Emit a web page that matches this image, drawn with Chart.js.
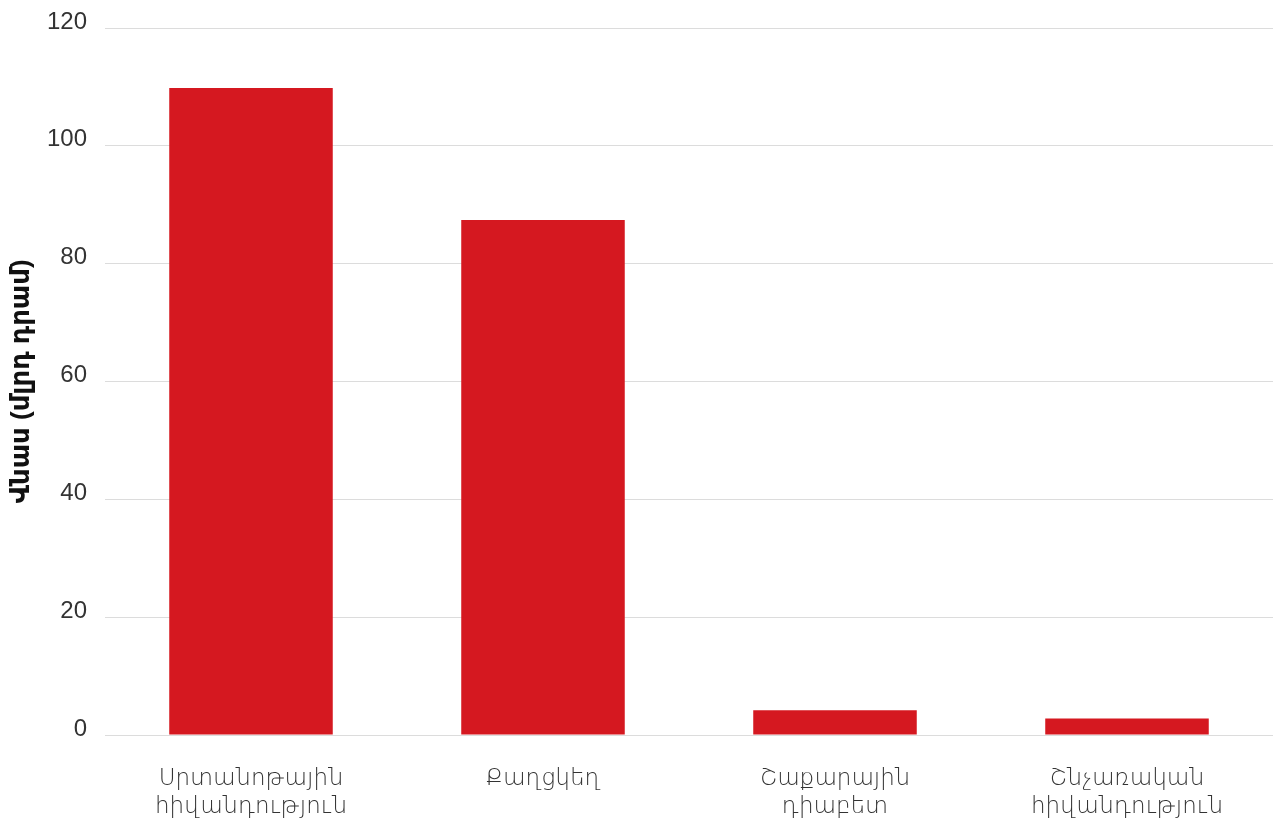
<!DOCTYPE html>
<html>
<head>
<meta charset="utf-8">
<script src="https://cdn.jsdelivr.net/npm/chart.js@4"></script>
<style>
  html, body { margin: 0; padding: 0; background: #fff; }
  #wrap { width: 1277px; height: 825px; }
</style>
</head>
<body>
<div id="wrap"><canvas id="damageChart"></canvas></div>
<script>
// Data
const categories = [
  ['Սրտանոթային', 'հիվանդություն'],
  ['Քաղցկեղ'],
  ['Շաքարային', 'դիաբետ'],
  ['Շնչառական', 'հիվանդություն']
];
const damageValues = [109.8, 87.4, 4.2, 2.8];
const yTicks = [0, 20, 40, 60, 80, 100, 120];
const yTitle = 'Վնաս (մլրդ դրամ)';

const fontFamily = '"Helvetica Neue", "Liberation Sans", "DejaVu Sans", sans-serif';

const ctx = document.getElementById('damageChart').getContext('2d');
new Chart(ctx, {
  type: 'bar',
  data: {
    labels: categories,
    datasets: [{
      data: damageValues,
      backgroundColor: '#d51820',
      borderWidth: 0,
      barPercentage: 0.56,
      categoryPercentage: 1.0
    }]
  },
  options: {
    responsive: true,
    maintainAspectRatio: false,
    animation: false,
    layout: { padding: { top: 28, right: 4, bottom: 0, left: 0 } },
    plugins: {
      legend: { display: false },
      tooltip: { enabled: false }
    },
    scales: {
      x: {
        grid: { display: false },
        border: { display: false },
        afterFit: axis => { axis.height = 90; },
        ticks: {
          color: '#333',
          padding: 22,
          maxRotation: 0,
          font: { family: fontFamily, size: 23, weight: '300', lineHeight: 1.22 }
        }
      },
      y: {
        min: 0,
        max: 120,
        afterBuildTicks: axis => { axis.ticks = yTicks.map(v => ({ value: v })); },
        afterFit: axis => {
          axis.width = 105;
          axis.paddingTop = 0;
          axis.paddingBottom = 0;
        },
        grid: { color: '#dcdcdc', lineWidth: 1, drawTicks: false },
        border: { display: false },
        ticks: {
          color: '#333',
          padding: 18,
          labelOffset: -6,
          font: { family: fontFamily, size: 24, weight: '300' }
        },
        title: {
          display: true,
          text: yTitle,
          color: '#111',
          padding: { top: 6, bottom: 0 },
          font: { family: fontFamily, size: 26, weight: 'bold' }
        }
      }
    }
  }
});
</script>
</body>
</html>
